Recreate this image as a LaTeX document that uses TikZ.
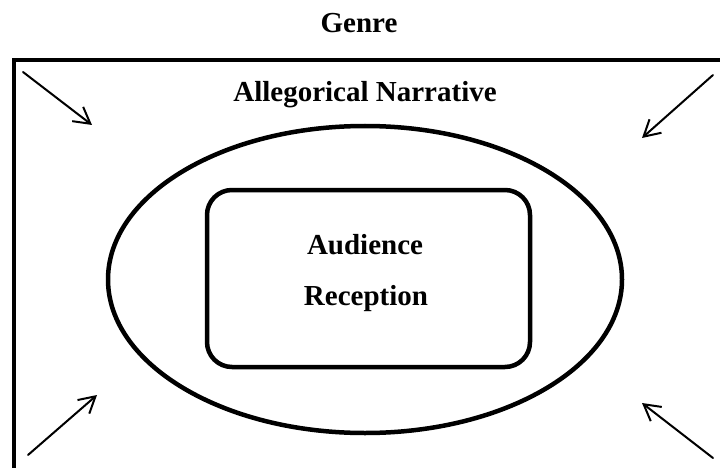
\documentclass[tikz,border=0pt]{standalone}
\usepackage{fontspec}
\setmainfont{Liberation Serif}
\usetikzlibrary{shapes.geometric,arrows.meta}

\begin{document}
\begin{tikzpicture}[x=1pt, y=-1pt,
		title/.style={font=\fontsize{29}{35}\selectfont\bfseries, anchor=base, inner sep=0},
		outline/.style={draw, line width=4.5pt, inner sep=0},
		pointer/.style={-{Straight Barb[length=16pt, width=18pt, line width=2pt]}, line width=2pt, line cap=round}]
			\clip (0,0) rectangle (720,468);

			\node (frame) [outline, rectangle, minimum width=716, minimum height=418] at (372,269) {};
			\node (narrative) [outline, ellipse, minimum width=514, minimum height=307] at (365,279.5) {};
			\node (reception) [outline, rectangle, rounded corners=25pt, minimum width=323, minimum height=177] at (368.5,278.5) {};

			\node (genre) [title] at (359,33) {Genre};
			\node (allegory) [title] at (365,102) {Allegorical Narrative};
			\node (aud1) [title] at (365,254) {Audience};
			\node (aud2) [title] at (366,305) {Reception};

			\coordinate (tl1) at (23,72);
			\coordinate (tl2) at (92,125);
			\coordinate (tr1) at (713,75);
			\coordinate (tr2) at (642,138);
			\coordinate (bl1) at (28,455);
			\coordinate (bl2) at (97,395);
			\coordinate (br1) at (713,458);
			\coordinate (br2) at (642,403);

			\draw[pointer] (tl1) -- (tl2);
			\draw[pointer] (tr1) -- (tr2);
			\draw[pointer] (bl1) -- (bl2);
			\draw[pointer] (br1) -- (br2);

		\end{tikzpicture}
\end{document}
